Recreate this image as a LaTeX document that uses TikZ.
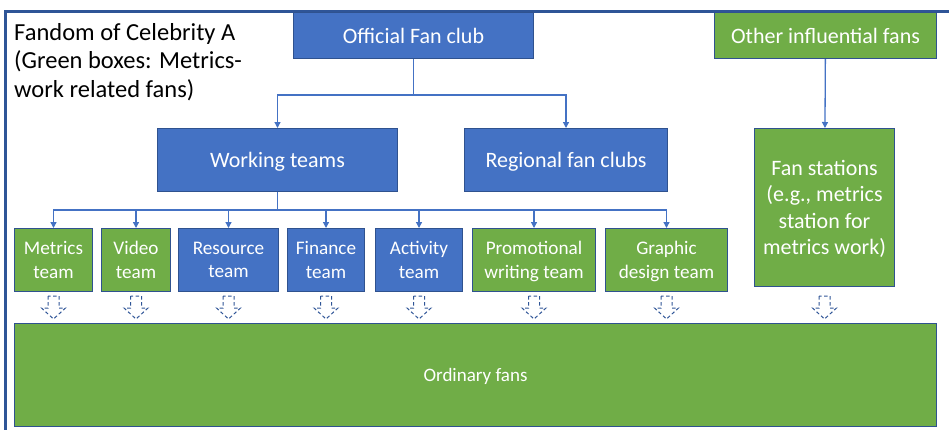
\documentclass[tikz,border=0pt]{standalone}
\usepackage{fontspec}
\setmainfont{Carlito}
\usetikzlibrary{arrows.meta,positioning}
\definecolor{fanblue}{HTML}{4472C4}
\definecolor{fangreen}{HTML}{70AD47}
\definecolor{edgeblue}{HTML}{2F528F}
\definecolor{frameblue}{HTML}{2F5597}

\begin{document}
\begin{tikzpicture}[x=1pt, y=-1pt, >={Triangle[length=6pt,width=6pt]},
  box/.style={draw=edgeblue, line width=1pt, text=white, align=center, inner sep=0pt},
  bluebox/.style={box, fill=fanblue},
  greenbox/.style={box, fill=fangreen},
  bigtext/.style={font=\fontsize{22}{26.5}\selectfont, text depth=0pt},
  teamtext/.style={font=\fontsize{19.2}{23.5}\selectfont, text depth=-3pt},
  link/.style={->, fanblue, line width=1.3pt},
  hollow/.style={draw=frameblue, dash pattern=on 3.5pt off 2.5pt, line width=1pt}]
  \clip (0,0) rectangle (949,429);

  % Outer frame
  \draw[frameblue, line width=3pt] (5,11) rectangle (980,460);
  \node[anchor=north west, align=left, inner sep=0pt,
    font=\fontsize{24.5}{28.5}\selectfont] (title) at (14,23)
    {Fandom of Celebrity A\\(Green boxes: Metrics-\\work related fans)};

  % Top level
  \node[bluebox, bigtext, minimum width=240pt, minimum height=46pt] (official) at (413.5,35.5) {Official Fan club};
  \node[greenbox, bigtext, minimum width=222pt, minimum height=46pt] (other) at (825.5,35.5) {Other influential fans};

  % Second level
  \node[bluebox, bigtext, minimum width=240pt, minimum height=63pt] (working) at (277.5,160) {Working teams};
  \node[bluebox, bigtext, minimum width=203pt, minimum height=63pt] (regional) at (566,160) {Regional fan clubs};
  \node[greenbox, bigtext, minimum width=140pt, minimum height=158pt] (stations) at (824.5,207.5)
    {Fan stations\\(e.g., metrics\\station for\\metrics work)};

  % Teams
  \node[greenbox, teamtext, minimum width=78pt, minimum height=63pt] (metrics) at (53.5,260) {Metrics\\team};
  \node[greenbox, teamtext, minimum width=69pt, minimum height=63pt] (video) at (136,260) {Video\\team};
  \node[bluebox, teamtext, minimum width=100pt, minimum height=63pt] (resource) at (228.5,260) {Resource\\team};
  \node[bluebox, teamtext, minimum width=77pt, minimum height=63pt] (finance) at (326,260) {Finance\\team};
  \node[bluebox, teamtext, minimum width=87pt, minimum height=63pt] (activity) at (419,260) {Activity\\team};
  \node[greenbox, teamtext, minimum width=123pt, minimum height=63pt] (promo) at (534,260) {Promotional\\writing team};
  \node[greenbox, teamtext, minimum width=122pt, minimum height=63pt] (graphic) at (666.5,260) {Graphic\\design team};

  % Bottom
  \node[greenbox, font=\fontsize{19}{22}\selectfont, text depth=0pt, minimum width=922pt, minimum height=103pt] (ordinary) at (475.5,375) {Ordinary fans};

  % Links
  \draw[link] (official.south) -- ++(0,36) -| (working.north);
  \draw[link] (official.south) -- ++(0,36) -| (regional.north);
  \draw[link] (other) -- (stations);
  \foreach \t in {metrics,video,resource,finance,activity,promo,graphic}
    \draw[link] (working.south) -- ++(0,18) -| (\t.north);

  % Dashed hollow arrows
  \coordinate (arrowtop) at (0,296);
  \foreach \t in {metrics,video,resource,finance,activity,promo,graphic,stations}
    \draw[hollow] (\t.south |- arrowtop) ++(-5.5,0) -- ++(0,12) -- ++(-6.5,0)
      -- ++(12,11) -- ++(12,-11) -- ++(-6.5,0) -- ++(0,-12) -- cycle;
\end{tikzpicture}
\end{document}
